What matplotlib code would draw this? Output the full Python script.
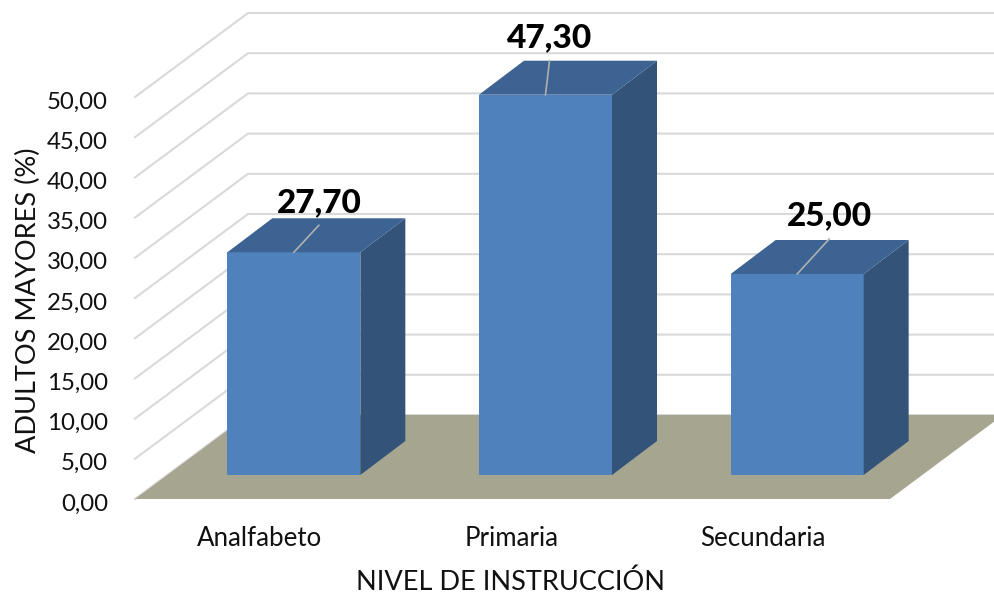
import matplotlib
matplotlib.use("Agg")
from matplotlib import pyplot as plt
from matplotlib.patches import Polygon

categories = ["Analfabeto", "Primaria", "Secundaria"]
values = [27.70, 47.30, 25.00]
tick_values = [0, 5, 10, 15, 20, 25, 30, 35, 40, 45, 50]

WIDTH, HEIGHT = 995, 599
FRONT = "#4f81bd"
SIDE = "#335379"
TOP = "#3c6392"
FLOOR = "#a6a590"
GRID = "#d9d9d9"
TEXT = "#111111"

plt.rcParams["font.family"] = ["Lato", "DejaVu Sans"]

fig = plt.figure(figsize=(WIDTH / 100, HEIGHT / 100), dpi=100)

# axes is the front plane of the box, x in categories and y in percent
x0, x1, y0, y1 = 135, 890, 499, 97
ax = fig.add_axes([x0 / WIDTH, 1 - y0 / HEIGHT, (x1 - x0) / WIDTH, (y0 - y1) / HEIGHT])
ax.set_xlim(-0.5, 2.5)
ax.set_ylim(0, 50)
ax.axis("off")

# one screen pixel in data units
px_x = 3 / (x1 - x0)
px_y = 50 / (y0 - y1)
depth_x = 113 * px_x
depth_y = 84 * px_y
bar_width = 133 * px_x
bar_dx = 45 * px_x
bar_dy = 34 * px_y
bar_shift = 33 * px_x
base = 24 * px_y

# leader line end, relative to the middle of the bar top, in pixels
leaders = [(25, 27), (4, 34), (32, 35)]

# walls
for v in tick_values:
    ax.plot([-0.5, -0.5 + depth_x, 2.5 + depth_x], [v, v + depth_y, v + depth_y],
            color=GRID, lw=1.5, clip_on=False, zorder=1)

# floor
ax.add_patch(Polygon([(-0.5, 0), (2.5, 0), (2.5 + depth_x, depth_y), (-0.5 + depth_x, depth_y)],
                     color=FLOOR, lw=0, clip_on=False, zorder=2))

# bars
for i, v in enumerate(values):
    left = i - bar_width / 2 + bar_shift
    right = left + bar_width
    ax.add_patch(Polygon([(left, base), (right, base), (right, base + v), (left, base + v)],
                         color=FRONT, lw=0, clip_on=False, zorder=3))
    ax.add_patch(Polygon([(right, base), (right + bar_dx, base + bar_dy),
                          (right + bar_dx, base + v + bar_dy), (right, base + v)],
                         color=SIDE, lw=0, clip_on=False, zorder=3))
    ax.add_patch(Polygon([(left, base + v), (right, base + v),
                          (right + bar_dx, base + v + bar_dy), (left + bar_dx, base + v + bar_dy)],
                         color=TOP, lw=0, clip_on=False, zorder=3))

    # leader line and value label
    mid = (left + right) / 2
    lx, ly = leaders[i]
    ax.plot([mid, mid + lx * px_x], [base + v, base + v + ly * px_y],
            color="#b0b0b0", lw=1.2, clip_on=False, zorder=4)
    ax.text(mid + lx * px_x, base + v + (ly + 23) * px_y, f"{v:.2f}".replace(".", ","),
            ha="center", va="center", fontsize=24, fontweight="black", color="black",
            clip_on=False, zorder=5)
    ax.text(i - 1 * px_x, -39 * px_y, categories[i], ha="center", va="center",
            fontsize=18.6, color=TEXT, clip_on=False)

# y tick labels
for v in tick_values:
    ax.text(-0.5 - 27 * px_x, v - 5 * px_y, f"{v:.2f}".replace(".", ","), ha="right", va="center",
            fontsize=17.3, color=TEXT, clip_on=False)

fig.text(28 / WIDTH, 1 - 300 / HEIGHT, "ADULTOS MAYORES (%)", rotation=90,
         ha="center", va="center", fontsize=19.5, color=TEXT)
fig.text(511 / WIDTH, 1 - 582 / HEIGHT, "NIVEL DE INSTRUCCIÓN",
         ha="center", va="center", fontsize=19.5, color=TEXT)

fig.savefig("out.png", dpi=100)
